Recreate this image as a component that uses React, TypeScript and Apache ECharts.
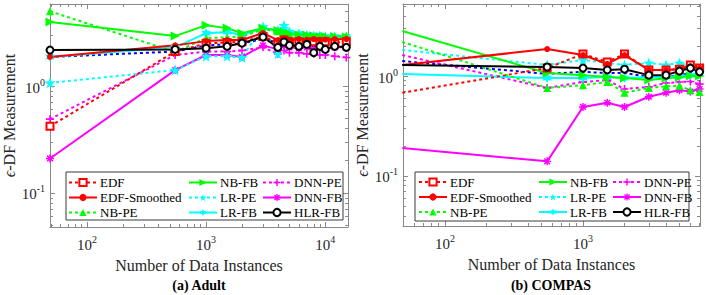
import React, { useEffect, useRef } from 'react';
import * as echarts from 'echarts';

const FONT = '"Liberation Serif", "Times New Roman", serif';

// Adult panel
const adultX = [49, 550, 1000, 1500, 2000, 3000, 4000, 4500, 5000, 6000, 7000, 8000, 9000, 10000, 12000, 15000];
const adultEDF = [0.42, 2.1, 2.5, 2.55, 2.6, 2.9, 2.55, 2.7, 2.6, 2.6, 2.55, 2.6, 2.5, 2.6, 2.55, 2.6];
const adultEDFSmoothed = [1.87, 2.4, 2.63, 2.69, 2.69, 3.13, 2.69, 2.8, 2.7, 2.75, 2.7, 2.75, 2.7, 2.72, 2.75, 2.75];
const adultNBPE = [5.0, 2.08, 2.81, 2.85, 2.9, 3.4, 3.25, 3.1, 3.0, 2.95, 2.9, 2.85, 2.9, 2.9, 2.9, 2.95];
const adultNBFB = [3.96, 2.93, 3.71, 3.48, 3.12, 3.48, 3.3, 3.2, 3.1, 3.0, 3.0, 2.95, 2.9, 2.9, 2.9, 2.87];
const adultLRPE = [1.07, 1.41, 1.9, 1.9, 1.85, 3.6, 2.0, 3.7, 3.2, 3.0, 2.9, 2.8, 2.85, 2.8, 2.8, 2.85];
const adultLRFB = [1.87, 2.3, 3.12, 3.2, 3.0, 3.48, 3.33, 3.4, 3.2, 3.1, 3.0, 2.95, 2.95, 2.9, 2.9, 2.9];
const adultDNNPE = [0.49, 1.95, 2.1, 2.1, 2.15, 2.3, 2.0, 2.15, 2.05, 2.05, 2.0, 2.0, 1.95, 1.95, 1.9, 1.85];
const adultDNNFB = [0.21, 1.41, 1.95, 1.95, 1.87, 2.4, 2.2, 2.4, 2.3, 2.25, 2.3, 2.2, 2.3, 2.25, 2.3, 2.3];
const adultHLRFB = [2.17, 2.2, 2.26, 2.35, 2.52, 2.87, 2.3, 2.58, 2.4, 2.35, 2.45, 2.05, 2.35, 2.2, 2.35, 2.3];
const adultBlue = [1.87, 2.1, 2.4, 2.45, 2.5, 2.75, 2.55, 2.5, 2.45, 2.4, 2.4, 2.35, 2.4, 2.4, 2.35, 2.4];

// COMPAS panel
const compasX = [49, 550, 1000, 1500, 2000, 3000, 4000, 5000, 6000, 7000];
const compasEDF = [0.68, 1.2, 1.66, 1.38, 1.66, 1.15, 1.15, 1.17, 1.29, 1.2];
const compasEDFSmoothed = [1.29, 1.86, 1.62, 1.32, 1.62, 1.15, 1.15, 1.17, 1.25, 1.2];
const compasNBPE = [2.19, 0.76, 0.81, 0.87, 0.68, 0.76, 0.79, 0.8, 0.72, 0.69];
const compasNBFB = [2.82, 1.07, 1.02, 0.98, 0.955, 0.91, 0.95, 0.97, 1.0, 1.0];
const compasLRPE = [1.82, 1.29, 1.45, 1.35, 1.29, 1.35, 1.29, 1.35, 1.25, 1.15];
const compasLRFB = [1.05, 0.955, 0.955, 0.98, 0.955, 0.98, 0.98, 1.0, 1.02, 1.05];
const compasDNNPE = [1.62, 0.76, 0.87, 0.91, 0.74, 0.78, 0.85, 0.87, 0.88, 0.83];
const compasDNNFB = [0.19, 0.14, 0.49, 0.54, 0.49, 0.62, 0.68, 0.72, 0.7, 0.74];
const compasHLRFB = [1.29, 1.23, 1.2, 1.15, 1.17, 1.02, 1.02, 1.12, 1.2, 1.1];
const compasBlue = [1.41, 1.05, 1.1, 1.07, 1.07, 0.98, 0.98, 1.02, 1.07, 1.1];

const seriesNames = ['EDF', 'EDF-Smoothed', 'NB-PE', 'NB-FB', 'LR-PE', 'LR-FB', 'DNN-PE', 'DNN-FB', 'HLR-FB'];

// tick values
const adultXMajor = [100, 1000, 10000];
const adultXMinor = [50, 60, 70, 80, 90, 200, 300, 400, 500, 600, 700, 800, 900, 2000, 3000, 4000, 5000, 6000, 7000, 8000, 9000];
const adultYMajor = [0.1, 1];
const adultYMinor = [0.05, 0.06, 0.07, 0.08, 0.09, 0.2, 0.3, 0.4, 0.5, 0.6, 0.7, 0.8, 0.9, 2, 3, 4, 5];
const compasXMajor = [100, 1000];
const compasXMinor = [50, 60, 70, 80, 90, 200, 300, 400, 500, 600, 700, 800, 900, 2000, 3000, 4000, 5000, 6000, 7000];
const compasYMajor = [0.1, 1];
const compasYMinor = [0.04, 0.05, 0.06, 0.07, 0.08, 0.09, 0.2, 0.3, 0.4, 0.5, 0.6, 0.7, 0.8, 0.9, 2, 3, 4, 5];

const STAR5 = 'path://M0,-10 L2.35,-3.24 L9.51,-3.09 L3.8,1.24 L5.88,8.09 L0,4 L-5.88,8.09 L-3.8,1.24 L-9.51,-3.09 L-2.35,-3.24 Z';
const STAR6 = 'path://M0,-10 L2.5,-4.33 L8.66,-5 L5,0 L8.66,5 L2.5,4.33 L0,10 L-2.5,4.33 L-8.66,5 L-5,0 L-8.66,-5 L-2.5,-4.33 Z';
const PLUS = 'path://M-1,-5 L1,-5 L1,-1 L5,-1 L5,1 L1,1 L1,5 L-1,5 L-1,1 L-5,1 L-5,-1 L-1,-1 Z';
const ASTER = 'path://M-0.9,-5 L0.9,-5 L0.9,-0.9 L5,-0.9 L5,0.9 L0.9,0.9 L0.9,5 L-0.9,5 L-0.9,0.9 L-5,0.9 L-5,-0.9 L-0.9,-0.9 Z M-4.2,-2.9 L-2.9,-4.2 L0,-1.3 L2.9,-4.2 L4.2,-2.9 L1.3,0 L4.2,2.9 L2.9,4.2 L0,1.3 L-2.9,4.2 L-4.2,2.9 L-1.3,0 Z';

const RED = '#ff0000';
const GREEN = '#00ff00';
const CYAN = '#00ffff';
const MAGENTA = '#ff00ff';
const DOT = [3, 3];

const styles: Record<string, any> = {
  'EDF': { color: RED, dotted: true, symbol: 'emptyRect', size: 7, bw: 1.6 },
  'EDF-Smoothed': { color: RED, dotted: false, symbol: 'circle', size: 6, bw: 0 },
  'NB-PE': { color: GREEN, dotted: true, symbol: 'triangle', size: 8, bw: 0 },
  'NB-FB': { color: GREEN, dotted: false, symbol: 'triangle', size: 9, rotate: -90, bw: 0 },
  'LR-PE': { color: CYAN, dotted: true, symbol: STAR5, size: 11, bw: 0 },
  'LR-FB': { color: CYAN, dotted: false, symbol: STAR6, size: 10, bw: 0 },
  'DNN-PE': { color: MAGENTA, dotted: true, symbol: PLUS, size: 8, bw: 0 },
  'DNN-FB': { color: MAGENTA, dotted: false, symbol: ASTER, size: 8, bw: 0 },
  'HLR-FB': { color: '#000000', dotted: false, symbol: 'emptyCircle', size: 7, bw: 2 },
  'Blue': { color: '#0000ff', dotted: true, symbol: 'none', size: 0, bw: 0 },
};

const AXIS_COLOR = '#8a8a8a';
const TEXT_COLOR = '#262626';

const labelFmt = (v: number) => {
  const e = Math.round(Math.log10(v));
  return `{b|10}{s|${e}}`;
};
const labelRich = {
  b: { fontFamily: FONT, fontSize: 15, color: TEXT_COLOR, verticalAlign: 'bottom' },
  s: { fontFamily: FONT, fontSize: 10, color: TEXT_COLOR, padding: [0, 0, 8, 0], verticalAlign: 'bottom' },
};

function makeAxes(dim: 'x' | 'y', grid: number, min: number, max: number, major: number[], minor: number[], name: string) {
  const base: any = {
    type: 'log',
    logBase: 10,
    gridIndex: grid,
    min,
    max,
    splitLine: { show: false },
    minorTick: { show: false },
    axisLine: { show: false },
    axisLabel: { show: false },
    axisTick: { show: false },
  };
  const p1 = dim === 'x' ? 'bottom' : 'left';
  const p2 = dim === 'x' ? 'top' : 'right';
  const lineStyle = { color: AXIS_COLOR, width: 1 };
  const nameObj: any = dim === 'x'
    ? {
        name,
        nameLocation: 'middle',
        nameGap: 30,
        nameTextStyle: { fontFamily: FONT, fontSize: 16, color: TEXT_COLOR },
      }
    : {
        name,
        nameLocation: 'middle',
        nameGap: 29,
        nameTextStyle: {
          fontFamily: FONT, fontSize: 16, color: TEXT_COLOR,
          rich: { i: { fontFamily: FONT, fontSize: 16, fontStyle: 'italic', color: TEXT_COLOR } },
        },
      };
  return [
    {
      ...base,
      ...nameObj,
      position: p1,
      axisLine: { show: true, onZero: false, lineStyle },
      axisTick: { show: true, inside: true, length: 5, customValues: major, lineStyle },
      axisLabel: {
        show: true,
        customValues: major,
        formatter: labelFmt,
        rich: labelRich,
        margin: dim === 'x' ? 7 : 5,
        showMinLabel: true,
        showMaxLabel: true,
      },
    },
    { ...base, position: p1, axisTick: { show: true, inside: true, length: 3, customValues: minor, lineStyle } },
    {
      ...base,
      position: p2,
      axisLine: { show: true, onZero: false, lineStyle },
      axisTick: { show: true, inside: true, length: 5, customValues: major, lineStyle },
    },
    { ...base, position: p2, axisTick: { show: true, inside: true, length: 3, customValues: minor, lineStyle } },
  ];
}

function makeSeries(name: string, xs: number[], vals: number[], axisIdx: number) {
  const st = styles[name];
  return {
    type: 'line',
    name,
    xAxisIndex: axisIdx,
    yAxisIndex: axisIdx,
    data: xs.map((x, i) => [x, vals[i]]),
    symbol: st.symbol,
    symbolSize: st.size,
    symbolRotate: st.rotate || 0,
    showSymbol: st.symbol !== 'none',
    showAllSymbol: true,
    silent: true,
    clip: true,
    lineStyle: { color: st.color, width: 2, type: st.dotted ? DOT : 'solid', cap: 'butt' },
    itemStyle: { color: st.color, borderColor: st.color, borderWidth: st.bw },
    emphasis: { disabled: true },
    z: 2,
  };
}

function legendCol(names: string[], left: number, top: number) {
  return {
    data: names,
    left,
    top,
    orient: 'vertical',
    itemWidth: 28,
    itemHeight: 9,
    itemGap: 2,
    padding: 0,
    selectedMode: false,
    textStyle: { fontFamily: FONT, fontSize: 13, lineHeight: 13, color: '#000', padding: [0, 0, 0, -2] },
    z: 10,
  };
}

export default function App() {
  const ref = useRef<HTMLDivElement>(null);
  useEffect(() => {
    if (!ref.current) return;
    const chart = echarts.init(ref.current, undefined, { renderer: 'svg' });
    const yName = '{i|ϵ}-DF Measurement';
    const xName = 'Number of Data Instances';
    const adultData: Record<string, number[]> = {
      'EDF': adultEDF, 'EDF-Smoothed': adultEDFSmoothed, 'NB-PE': adultNBPE, 'NB-FB': adultNBFB,
      'LR-PE': adultLRPE, 'LR-FB': adultLRFB, 'DNN-PE': adultDNNPE, 'DNN-FB': adultDNNFB, 'HLR-FB': adultHLRFB,
    };
    const compasData: Record<string, number[]> = {
      'EDF': compasEDF, 'EDF-Smoothed': compasEDFSmoothed, 'NB-PE': compasNBPE, 'NB-FB': compasNBFB,
      'LR-PE': compasLRPE, 'LR-FB': compasLRFB, 'DNN-PE': compasDNNPE, 'DNN-FB': compasDNNFB, 'HLR-FB': compasHLRFB,
    };
    const drawOrder = ['Blue', 'DNN-FB', 'DNN-PE', 'LR-PE', 'LR-FB', 'NB-PE', 'NB-FB', 'EDF', 'EDF-Smoothed', 'HLR-FB'];
    const series: any[] = [];
    drawOrder.forEach((n) => {
      series.push(makeSeries(n, adultX, n === 'Blue' ? adultBlue : adultData[n], 0));
    });
    drawOrder.forEach((n) => {
      series.push(makeSeries(n, compasX, n === 'Blue' ? compasBlue : compasData[n], 4));
    });

    const option: any = {
      animation: false,
      backgroundColor: '#ffffff',
      grid: [
        { left: 50, top: 4, width: 298, height: 223, containLabel: false },
        { left: 403, top: 4, width: 297, height: 222, containLabel: false },
      ],
      xAxis: [
        ...makeAxes('x', 0, 49, 15500, adultXMajor, adultXMinor, xName),
        ...makeAxes('x', 1, 49.6, 7050, compasXMajor, compasXMinor, xName),
      ],
      yAxis: [
        ...makeAxes('y', 0, 0.048, 5.85, adultYMajor, adultYMinor, yName),
        ...makeAxes('y', 1, 0.0316, 5.25, compasYMajor, compasYMinor, yName),
      ],
      legend: [
        legendCol(['EDF', 'EDF-Smoothed', 'NB-PE'], 68, 176),
        legendCol(['NB-FB', 'LR-PE', 'LR-FB'], 188, 176),
        legendCol(['DNN-PE', 'DNN-FB', 'HLR-FB'], 262, 176),
        legendCol(['EDF', 'EDF-Smoothed', 'NB-PE'], 418, 175.5),
        legendCol(['NB-FB', 'LR-PE', 'LR-FB'], 538, 175.5),
        legendCol(['DNN-PE', 'DNN-FB', 'HLR-FB'], 612, 175.5),
      ],
      graphic: [
        {
          type: 'rect', z: 5,
          shape: { x: 66, y: 172, width: 277, height: 48 },
          style: { fill: '#ffffff', stroke: '#3a3a3a', lineWidth: 1 },
        },
        {
          type: 'rect', z: 5,
          shape: { x: 415, y: 172, width: 274, height: 49 },
          style: { fill: '#ffffff', stroke: '#3a3a3a', lineWidth: 1 },
        },
        {
          type: 'text', x: 199, y: 285, z: 5,
          style: { text: '(a) Adult', fontFamily: FONT, fontSize: 14, fontWeight: 'bold', fill: '#000', align: 'center', verticalAlign: 'middle' },
        },
        {
          type: 'text', x: 551, y: 285, z: 5,
          style: { text: '(b) COMPAS', fontFamily: FONT, fontSize: 14, fontWeight: 'bold', fill: '#000', align: 'center', verticalAlign: 'middle' },
        },
      ],
      series,
    };
    chart.setOption(option);
    return () => chart.dispose();
  }, []);
  return <div ref={ref} style={{ position: 'fixed', left: 0, top: 0, width: 706, height: 295, background: '#fff' }} />;
}
